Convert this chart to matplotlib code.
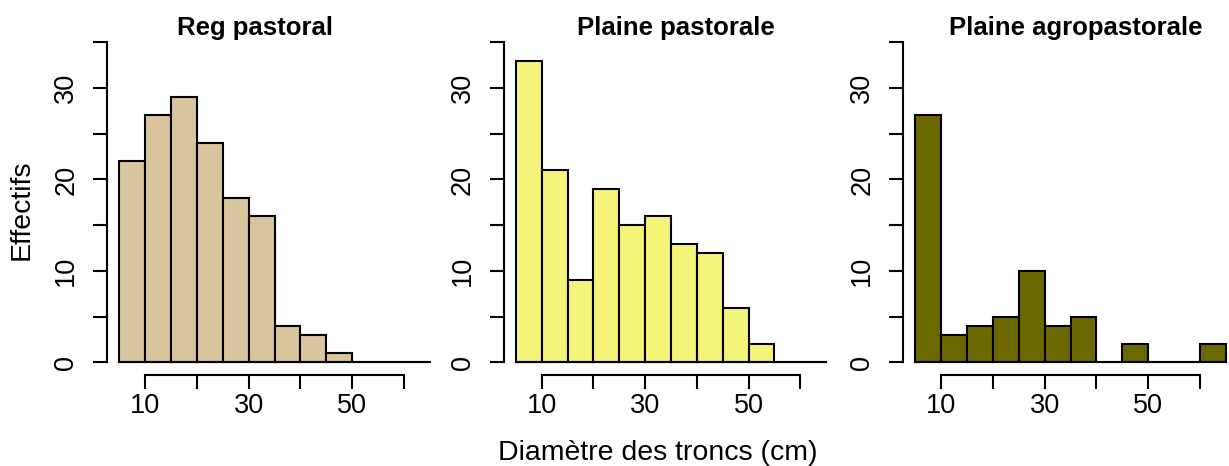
import matplotlib
matplotlib.use("Agg")
import matplotlib.pyplot as plt
import numpy as np

plt.rcParams['font.family'] = ['Liberation Sans', 'DejaVu Sans']

# histogram counts per 5 cm class, classes from 5 to 65 cm
breaks = [5, 10, 15, 20, 25, 30, 35, 40, 45, 50, 55, 60, 65]
reg_pastoral = [22, 27, 29, 24, 18, 16, 4, 3, 1, 0, 0, 0]
plaine_pastorale = [33, 21, 9, 19, 15, 16, 13, 12, 6, 2, 0, 0]
plaine_agropastorale = [27, 3, 4, 5, 10, 4, 5, 0, 2, 0, 0, 2]

titles = ["Reg pastoral", "Plaine pastorale", "Plaine agropastorale"]
colors = ["#D9C59E", "#F4F47A", "#6B6800"]
series = [reg_pastoral, plaine_pastorale, plaine_agropastorale]

W, H = 1229, 466
fig = plt.figure(figsize=(W / 100, H / 100), dpi=100)

# left edge of each plot region in pixels, and title centres
lefts = [107, 503.5, 903]
title_x = [255, 676, 1076]
pw = 335
top_px, bot_px = 29.4, 375.3
lw = 1.5

for i in range(3):
    ax = fig.add_axes([lefts[i] / W, (H - bot_px) / H, pw / W, (bot_px - top_px) / H])
    counts = series[i]
    ax.bar(breaks[:-1], counts, width=5, align='edge', color=colors[i],
           edgecolor='black', linewidth=lw)
    # baseline under the bars, as R's hist draws it
    ax.plot([breaks[0], breaks[-1]], [0, 0], color='black', lw=lw)
    ax.set_xlim(2.6, 67.4)
    ax.set_ylim(-1.4, 36.4)
    for s in ['top', 'right']:
        ax.spines[s].set_visible(False)
    ax.spines['left'].set_bounds(0, 35)
    ax.spines['bottom'].set_bounds(10, 60)
    for s in ['left', 'bottom']:
        ax.spines[s].set_linewidth(lw)
    ax.set_yticks(np.arange(0, 36, 5))
    ax.set_yticklabels(['0', '', '10', '', '20', '', '30', ''], rotation=90, va='center')
    ax.set_xticks(np.arange(10, 61, 10))
    ax.set_xticklabels(['10', '', '30', '', '50', ''])
    ax.tick_params(axis='both', direction='out', length=10, width=lw, labelsize=19.5)
    ax.tick_params(axis='y', pad=10)
    ax.tick_params(axis='x', pad=3)
    fig.text(title_x[i] / W, (H - 35) / H, titles[i], ha='center', va='baseline',
             fontsize=18.5, fontweight='bold')

fig.text(658 / W, (H - 460) / H, "Diamètre des troncs (cm)", ha='center', va='baseline',
         fontsize=20.5)
fig.text(22 / W, (H - 210) / H, "Effectifs", rotation=90, ha='center', va='center',
         fontsize=20.5)

fig.savefig("out.png", dpi=100)
